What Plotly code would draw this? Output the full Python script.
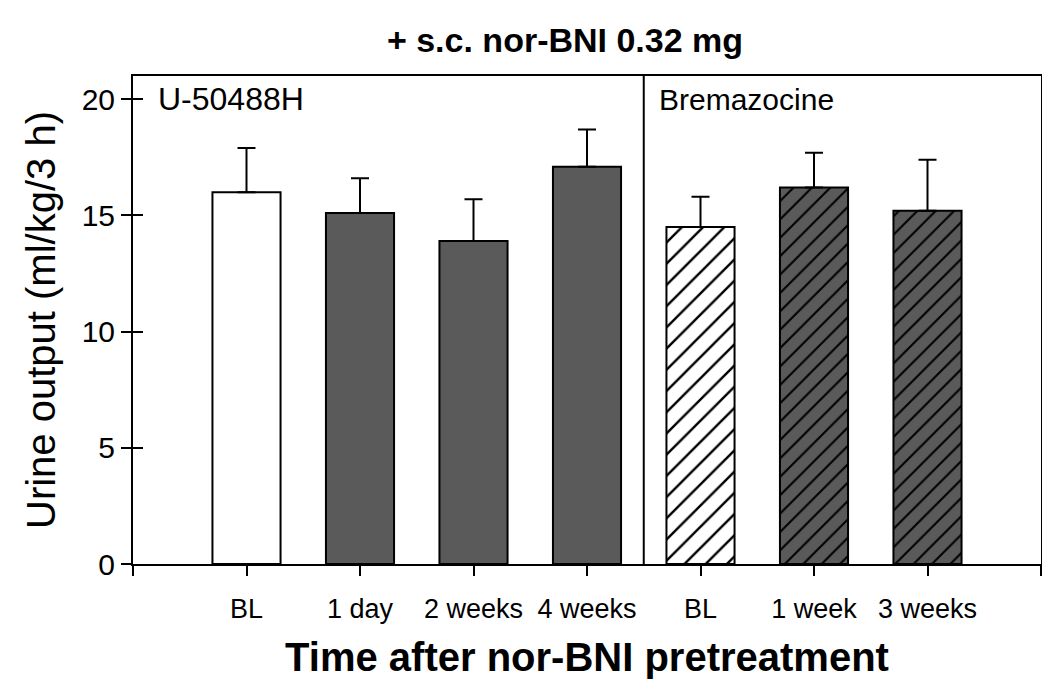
import plotly.graph_objects as go

# ---- data ----
labels = ["BL", "1 day", "2 weeks", "4 weeks", "BL", "1 week", "3 weeks"]
means = [16.0, 15.1, 13.9, 17.1, 14.5, 16.2, 15.2]
sems = [1.9, 1.5, 1.8, 1.6, 1.3, 1.5, 2.2]
groups = ["U-50488H", "Bremazocine"]
group_sizes = [4, 3]
title_text = "+ s.c. nor-BNI 0.32 mg"
x_title = "Time after nor-BNI pretreatment"
y_title = "Urine output (ml/kg/3 h)"
y_ticks = [0, 5, 10, 15, 20]

# ---- styling ----
FONT = "Liberation Sans, Arial, sans-serif"
DARK = "#5a5a5a"

n = len(labels)
xpos = list(range(1, n + 1))
W, H = 1042, 691  # page body has an 8px margin


def bar_trace(idx, fill, hatched, hsize=13):
    xs = [xpos[i] for i in idx]
    ys = [means[i] for i in idx]
    es = [sems[i] for i in idx]
    marker = dict(color=fill, line=dict(color="black", width=2))
    if hatched:
        marker["pattern"] = dict(shape="/", fillmode="replace", fgcolor="black",
                                 fgopacity=1, bgcolor=fill, size=hsize, solidity=0.16)
    return go.Bar(
        x=xs, y=ys, width=0.6, marker=marker,
        error_y=dict(type="data", symmetric=False, array=es, arrayminus=[0] * len(es),
                     color="black", thickness=2, width=9),
        showlegend=False,
    )


fig = go.Figure()
fig.add_trace(bar_trace([0], "white", False))
fig.add_trace(bar_trace([1, 2, 3], DARK, False))
fig.add_trace(bar_trace([4], "white", True, 15))
fig.add_trace(bar_trace([5, 6], DARK, True, 13))
# invisible trace to carry the inner-tick y axis
fig.add_trace(go.Scatter(x=[None], y=[None], yaxis="y2", showlegend=False, hoverinfo="skip"))

divider = group_sizes[0] + 0.5
fig.add_shape(type="line", xref="x", yref="y", x0=divider, x1=divider, y0=0, y1=21,
              line=dict(color="black", width=2))

fig.add_annotation(x=0.2, y=20, xref="x", yref="y", text=groups[0], showarrow=False,
                   xanchor="left", yanchor="middle", font=dict(family=FONT, size=32, color="black"))
fig.add_annotation(x=divider + 0.12, y=20, xref="x", yref="y", text=groups[1], showarrow=False,
                   xanchor="left", yanchor="middle", font=dict(family=FONT, size=30, color="black"))

tickvals = [0] + xpos + [n + 1]
ticktext = [""] + labels + [""]

fig.update_layout(
    width=W, height=H, barmode="overlay",
    margin=dict(l=125, r=9, t=68, b=135),
    paper_bgcolor="white", plot_bgcolor="white",
    font=dict(family=FONT, color="black"),
    title=dict(text="<b>" + title_text + "</b>", x=557 / W, xanchor="center",
               y=1 - 32 / H, yanchor="middle", yref="container",
               font=dict(family=FONT, size=34, color="black")),
    xaxis=dict(range=[0, n + 1], tickvals=tickvals, ticktext=ticktext,
               showline=True, mirror=True, linecolor="black", linewidth=2,
               ticks="outside", ticklen=10, tickwidth=2, tickcolor="black",
               showgrid=False, zeroline=False, automargin=False,
               tickfont=dict(family=FONT, size=27, color="black"),
               ticklabelstandoff=10,
               title=dict(text="<b>" + x_title + "</b>", standoff=20,
                          font=dict(family=FONT, size=40, color="black"))),
    yaxis=dict(range=[0, 21], tickvals=y_ticks,
               showline=True, mirror=True, linecolor="black", linewidth=2,
               ticks="outside", ticklen=10, tickwidth=2, tickcolor="black",
               showgrid=False, zeroline=False, automargin=False,
               tickfont=dict(family=FONT, size=30, color="black"),
               title=dict(text=y_title, standoff=14,
                          font=dict(family=FONT, size=40, color="black"))),
    yaxis2=dict(range=[0, 21], tickvals=y_ticks, overlaying="y", side="left",
                ticks="inside", ticklen=10, tickwidth=2, tickcolor="black",
                showticklabels=False, showline=False, showgrid=False, zeroline=False,
                automargin=False),
)

fig.write_html("out.html")
